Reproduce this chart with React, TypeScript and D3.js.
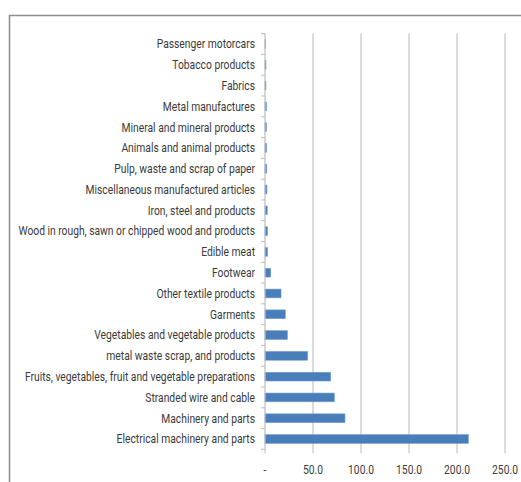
import React, { useEffect, useRef } from 'react';
import * as d3 from 'd3';

// categories, top to bottom
const categories = [
  'Passenger motorcars',
  'Tobacco products',
  'Fabrics',
  'Metal manufactures',
  'Mineral and mineral products',
  'Animals and animal products',
  'Pulp, waste and scrap of paper',
  'Miscellaneous manufactured articles',
  'Iron, steel and products',
  'Wood in rough, sawn or chipped wood and products',
  'Edible meat',
  'Footwear',
  'Other textile products',
  'Garments',
  'Vegetables and vegetable products',
  'metal waste scrap, and products',
  'Fruits, vegetables, fruit and vegetable preparations',
  'Stranded wire and cable',
  'Machinery and parts',
  'Electrical machinery and parts',
];
const values = [0.5, 1.0, 1.0, 1.5, 1.5, 1.6, 1.8, 2.0, 2.3, 2.5, 2.6, 5.9, 16.7, 21.2, 23.3, 44.4, 68.4, 72.2, 83.3, 211.8];
const ticks = [0, 50, 100, 150, 200, 250];

const App: React.FC = () => {
  const ref = useRef<SVGSVGElement | null>(null);

  useEffect(() => {
    if (!ref.current) return;
    const svg = d3.select(ref.current);
    svg.selectAll('*').remove();

    const W = 521, H = 482;
    const left = 265, right = 505, top = 33.6, bottom = 449.4;
    const font = 'Roboto, "DejaVu Sans", sans-serif';
    const squeeze = 0.825; // narrow the text, like Calibri

    // outer frame
    svg.append('rect')
      .attr('x', 9.5).attr('y', 15.5)
      .attr('width', W).attr('height', H)
      .attr('fill', 'white').attr('stroke', '#8c8c8c').attr('stroke-width', 1.5);

    const x = d3.scaleLinear().domain([0, 250]).range([left, right]);
    const y = d3.scaleBand().domain(categories).range([top, bottom]).paddingInner(0.58).paddingOuter(0.29);
    const yb = d3.scaleBand().domain(categories).range([top, bottom]);

    // grid
    svg.append('g').selectAll('line').data(ticks.slice(1)).enter().append('line')
      .attr('x1', (d) => x(d)).attr('x2', (d) => x(d))
      .attr('y1', top).attr('y2', bottom)
      .attr('stroke', '#c8c8c8').attr('stroke-width', 1.3);

    // bars
    svg.append('g').selectAll('rect').data(categories).enter().append('rect')
      .attr('x', x(0))
      .attr('y', (d) => y(d) || 0)
      .attr('width', (_, i) => Math.max(0, x(values[i]) - x(0)))
      .attr('height', y.bandwidth())
      .attr('fill', '#4a7ebb')
      .attr('stroke', '#6f9bd1').attr('stroke-width', 0.6);

    // y axis line and ticks
    const ax = svg.append('g');
    ax.append('line').attr('x1', left).attr('x2', left).attr('y1', top).attr('y2', bottom)
      .attr('stroke', '#bdbdbd').attr('stroke-width', 1.2);
    const bounds = categories.map((c) => yb(c) || 0).concat([bottom]);
    ax.selectAll('line.tk').data(bounds).enter().append('line').attr('class', 'tk')
      .attr('x1', left - 4).attr('x2', left).attr('y1', (d) => d).attr('y2', (d) => d)
      .attr('stroke', '#bdbdbd');
    // x axis ticks
    ax.selectAll('line.xt').data(ticks).enter().append('line').attr('class', 'xt')
      .attr('x1', (d) => x(d)).attr('x2', (d) => x(d)).attr('y1', bottom).attr('y2', bottom + 4)
      .attr('stroke', '#bdbdbd');

    // category labels
    svg.append('g').selectAll('text').data(categories).enter().append('text')
      .attr('transform', (d) => `translate(255,${(yb(d) || 0) + yb.bandwidth() / 2}) scale(${squeeze},1)`)
      .attr('dy', '0.35em')
      .attr('text-anchor', 'end')
      .style('font-family', font)
      .style('font-size', '12.5px')
      .style('fill', '#3a3a3a')
      .text((d) => d);

    // tick labels
    svg.append('g').selectAll('text').data(ticks).enter().append('text')
      .attr('transform', (d) => `translate(${x(d)},470) scale(${squeeze},1)`)
      .attr('dy', '0.35em')
      .attr('text-anchor', 'middle')
      .style('font-family', font)
      .style('font-size', '12.5px')
      .style('fill', '#3a3a3a')
      .text((d) => (d === 0 ? '-' : d3.format('.1f')(d)));
  }, []);

  return (
    <div style={{ position: 'absolute', left: 0, top: 0 }}>
      <svg ref={ref} width={521} height={482} style={{ display: 'block' }}></svg>
    </div>
  );
};

export default App;
